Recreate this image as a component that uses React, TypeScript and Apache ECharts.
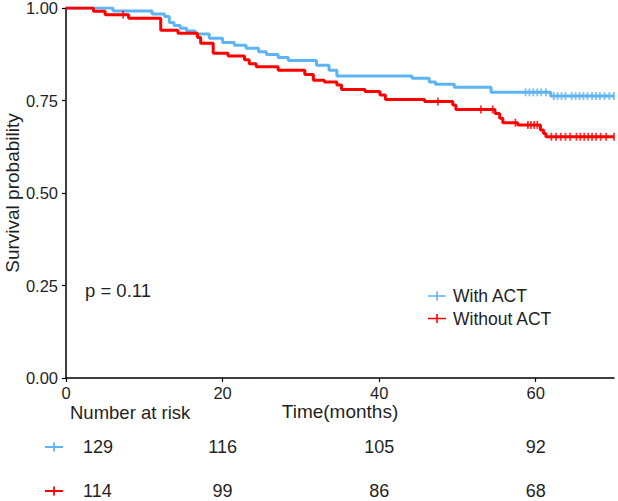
import React, { useEffect, useRef } from 'react';
import * as echarts from 'echarts';

// With ACT (Kaplan-Meier steps)
const withTimes = [0, 6, 11, 12.6, 13.2, 13.8, 14.6, 15.4, 16.5, 18.3, 20, 21.5, 23, 24.6, 25.6, 27.1, 28.4, 32, 33.6, 34.6, 44.2, 46.4, 47.2, 49.6, 54.3, 61.9, 70];
const withSurv = [1, 0.992, 0.984, 0.977, 0.961, 0.953, 0.945, 0.938, 0.93, 0.918, 0.907, 0.899, 0.891, 0.882, 0.874, 0.866, 0.858, 0.845, 0.832, 0.816, 0.81, 0.8, 0.794, 0.786, 0.772, 0.762, 0.762];
const withCensor = [58.7, 59.2, 59.7, 60.2, 60.7, 61.3, 62.3, 62.8, 63.3, 63.8, 64.6, 65.1, 65.6, 66.1, 66.6, 67.2, 67.7, 68.2, 68.8, 69.4, 70];

// Without ACT
const withoutTimes = [0, 3.5, 5, 8, 12.1, 14.3, 16.8, 17.2, 18.8, 20.7, 22.8, 23.4, 24.3, 27.1, 30.5, 31.6, 33, 34.6, 35.2, 38.2, 40.1, 40.8, 45.8, 49.4, 49.8, 54.8, 55.4, 55.8, 57.7, 60.6, 61, 61.3, 70];
const withoutSurv = [1, 0.991, 0.982, 0.972, 0.94, 0.932, 0.92, 0.905, 0.878, 0.87, 0.86, 0.849, 0.841, 0.832, 0.82, 0.805, 0.8, 0.792, 0.78, 0.774, 0.765, 0.753, 0.747, 0.738, 0.726, 0.715, 0.702, 0.69, 0.684, 0.67, 0.661, 0.652, 0.652];
const withoutCensor = [7.3, 47.5, 53, 54.5, 57.4, 59, 59.4, 59.8, 60.2, 62, 62.6, 63.2, 63.8, 64.4, 65.2, 65.7, 66.2, 66.7, 67.2, 67.7, 68.3, 69, 70];

const groupNames = ['With ACT', 'Without ACT'];
const groupColors = ['#5cb4f5', '#ff0000'];

const riskTimes = [0, 20, 40, 60];
const riskWith = [129, 116, 105, 92];
const riskWithout = [114, 99, 86, 68];

const xTicks = [0, 20, 40, 60];
const pText = 'p = 0.11';

const FONT = '"Liberation Sans", Arial, sans-serif';
const TXT = '#1f1f1f';

function survAt(times: number[], surv: number[], t: number) {
  let s = surv[0];
  for (let i = 0; i < times.length; i++) {
    if (times[i] <= t) s = surv[i];
  }
  return s;
}

const plusIcon = 'path://M0,4.1H20V5.9H0Z M9.1,0H10.9V10H9.1Z';

export default function App() {
  const ref = useRef<HTMLDivElement>(null);
  useEffect(() => {
    const chart = echarts.init(ref.current!, null, { renderer: 'svg' });
    const mk = (times: number[], surv: number[]) => times.map((t, i) => [t, surv[i]]);
    const option: any = {
      animation: false,
      backgroundColor: '#ffffff',
      textStyle: { fontFamily: FONT },
      grid: { left: 66, top: 8, right: 4, bottom: 123, containLabel: false, outerBoundsMode: 'none' },
      legend: {
        orient: 'vertical',
        left: 428,
        top: 287,
        padding: 0,
        itemWidth: 18,
        itemHeight: 10,
        itemGap: 4.5,
        icon: plusIcon,
        data: groupNames,
        textStyle: { fontSize: 17.5, color: TXT, fontFamily: FONT, padding: [0, 0, 0, 2] },
      },
      xAxis: {
        type: 'value',
        min: 0,
        max: 70,
        name: 'Time(months)',
        nameLocation: 'middle',
        nameGap: 24,
        nameMoveOverlap: false,
        nameTextStyle: { fontSize: 19, color: TXT, fontFamily: FONT },
        axisLine: { lineStyle: { color: '#000', width: 1.5 } },
        axisTick: { customValues: xTicks, length: 4, lineStyle: { color: '#000', width: 1.2 } },
        axisLabel: { customValues: xTicks, fontSize: 16.5, color: TXT, margin: 6, fontFamily: FONT },
        splitLine: { show: false },
      },
      yAxis: {
        type: 'value',
        min: 0,
        max: 1,
        interval: 0.25,
        name: 'Survival probability',
        nameLocation: 'middle',
        nameGap: 44,
        nameMoveOverlap: false,
        nameTextStyle: { fontSize: 19, color: TXT, fontFamily: FONT },
        axisLine: { show: true, lineStyle: { color: '#000', width: 1.5 } },
        axisTick: { show: true, length: 4, lineStyle: { color: '#000', width: 1.2 } },
        axisLabel: { fontSize: 16.5, color: TXT, margin: 8, fontFamily: FONT, formatter: (v: number) => v.toFixed(2) },
        splitLine: { show: false },
      },
      series: [
        {
          name: groupNames[0],
          type: 'line',
          step: 'end',
          showSymbol: false,
          data: mk(withTimes, withSurv),
          lineStyle: { color: groupColors[0], width: 3 },
          itemStyle: { color: groupColors[0] },
          z: 2,
        },
        {
          name: groupNames[1],
          type: 'line',
          step: 'end',
          showSymbol: false,
          data: mk(withoutTimes, withoutSurv),
          lineStyle: { color: groupColors[1], width: 3 },
          itemStyle: { color: groupColors[1] },
          z: 3,
        },
        {
          name: groupNames[0] + ' censor',
          type: 'scatter',
          symbol: 'rect',
          symbolSize: [1.8, 8],
          data: withCensor.map((t) => [t, survAt(withTimes, withSurv, t)]),
          itemStyle: { color: groupColors[0] },
          z: 4,
        },
        {
          name: groupNames[1] + ' censor',
          type: 'scatter',
          symbol: 'rect',
          symbolSize: [1.8, 8],
          data: withoutCensor.map((t) => [t, survAt(withoutTimes, withoutSurv, t)]),
          itemStyle: { color: groupColors[1] },
          z: 5,
        },
      ],
    };
    chart.setOption(option);

    const px = (t: number) => chart.convertToPixel({ xAxisIndex: 0 }, t) as number;
    const py = (v: number) => chart.convertToPixel({ yAxisIndex: 0 }, v) as number;
    const x0 = px(0);
    const rows = [
      { vals: riskWith, color: groupColors[0], y: 447 },
      { vals: riskWithout, color: groupColors[1], y: 491 },
    ];
    const graphic: any[] = [
      {
        type: 'text',
        x: x0 + 19,
        y: py(0.25) + 5,
        style: { text: pText, fontSize: 18.5, fill: TXT, fontFamily: FONT, verticalAlign: 'middle', align: 'left' },
      },
      {
        type: 'text',
        x: x0 + 4,
        y: 412,
        style: { text: 'Number at risk', fontSize: 18.5, fill: TXT, fontFamily: FONT, verticalAlign: 'middle', align: 'left' },
      },
    ];
    rows.forEach((r) => {
      graphic.push({
        type: 'rect',
        shape: { x: 45, y: r.y - 1, width: 18, height: 2 },
        style: { fill: r.color },
      });
      graphic.push({
        type: 'rect',
        shape: { x: 53.1, y: r.y - 4.5, width: 1.8, height: 9 },
        style: { fill: r.color },
      });
      r.vals.forEach((v, i) => {
        const t = riskTimes[i];
        const isFirst = i === 0;
        graphic.push({
          type: 'text',
          x: isFirst ? x0 + 17 : px(t),
          y: r.y,
          style: {
            text: String(v),
            fontSize: 18,
            fill: TXT,
            fontFamily: FONT,
            align: isFirst ? 'left' : 'center',
            verticalAlign: 'middle',
          },
        });
      });
    });
    chart.setOption({ graphic });
    return () => chart.dispose();
  }, []);
  return <div ref={ref} style={{ position: 'fixed', left: 0, top: 0, width: 618, height: 501 }} />;
}
